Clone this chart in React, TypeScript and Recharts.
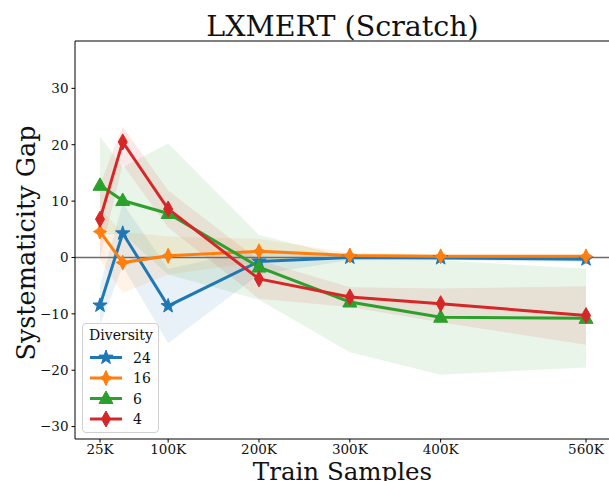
import React from "react"
import {
  Area,
  ComposedChart,
  Line,
  ReferenceLine,
  XAxis,
  YAxis,
} from "recharts"

const W = 609
const H = 481
const FONT = "'DejaVu Serif', serif"

// x positions (train samples) and per-diversity systematicity gap
const samples = [25000, 50000, 100000, 200000, 300000, 400000, 560000]
const xTicks = [25000, 100000, 200000, 300000, 400000, 560000]
const yTicks = [-30, -20, -10, 0, 10, 20, 30]

const gap24 = [-8.5, 4.3, -8.6, -0.7, 0.0, -0.1, -0.3]
const low24 = [-12, -1.5, -15.2, -3, -0.5, -0.5, -0.8]
const high24 = [-5, 9.6, -2, 1.5, 0.5, 0.3, 0.2]

const gap16 = [4.6, -0.9, 0.3, 1.1, 0.35, 0.2, 0.2]
const low16 = [-0.5, -6.3, -3, -0.8, 0, 0, 0]
const high16 = [8.5, 4.5, 3.7, 3.3, 0.8, 0.4, 0.4]

const gap6 = [12.8, 10.1, 7.8, -1.7, -7.9, -10.6, -10.8]
const low6 = [4, 4.2, -3, -7.5, -16.8, -20.8, -19.5]
const high6 = [21.5, 16, 20.2, 4, 0, -0.5, -2]

const gap4 = [6.8, 20.5, 8.6, -3.8, -7.0, -8.2, -10.3]
const low4 = [0, 16.5, 5.3, -7.3, -8.8, -11.5, -15.5]
const high4 = [13, 23.2, 11.9, -0.5, -5.3, -5.5, -5.1]

const COLORS = { d24: "#1f77b4", d16: "#ff7f0e", d6: "#2ca02c", d4: "#d62728" }

const rows = samples.map((x, i) => ({
  x,
  d24: gap24[i],
  b24: [low24[i], high24[i]],
  d16: gap16[i],
  b16: [low16[i], high16[i]],
  d6: gap6[i],
  b6: [low6[i], high6[i]],
  d4: gap4[i],
  b4: [low4[i], high4[i]],
}))

type Kind = "star" | "star4" | "tri" | "thin"

function markerPath(kind: Kind, cx: number, cy: number) {
  if (kind === "star") {
    const pts: string[] = []
    for (let k = 0; k < 10; k++) {
      const r = k % 2 === 0 ? 7.5 : 3
      const a = -Math.PI / 2 + (k * Math.PI) / 5
      pts.push(`${cx + r * Math.cos(a)},${cy + r * Math.sin(a)}`)
    }
    return "M" + pts.join("L") + "Z"
  }
  if (kind === "star4") {
    return `M${cx},${cy - 7.5}L${cx + 2.4},${cy - 2.4}L${cx + 6.5},${cy}L${cx + 2.4},${cy + 2.4}L${cx},${cy + 7.5}L${cx - 2.4},${cy + 2.4}L${cx - 6.5},${cy}L${cx - 2.4},${cy - 2.4}Z`
  }
  if (kind === "tri") {
    return `M${cx},${cy - 7.5}L${cx + 7},${cy + 5}L${cx - 7},${cy + 5}Z`
  }
  return `M${cx},${cy - 8}L${cx + 4.5},${cy}L${cx},${cy + 8}L${cx - 4.5},${cy}Z`
}

function dotFor(kind: Kind, color: string) {
  return (p: any) => (
    <path
      key={`${kind}-${p.index}`}
      d={markerPath(kind, p.cx, p.cy)}
      fill={color}
      stroke={color}
      strokeWidth={1}
    />
  )
}

const SERIES: { key: "d24" | "d16" | "d6" | "d4"; band: string; label: string; kind: Kind }[] = [
  { key: "d24", band: "b24", label: "24", kind: "star" },
  { key: "d16", band: "b16", label: "16", kind: "star4" },
  { key: "d6", band: "b6", label: "6", kind: "tri" },
  { key: "d4", band: "b4", label: "4", kind: "thin" },
]

const fmtK = (v: number) => `${Math.round(v / 1000)}K`
const fmtY = (v: number) => (v < 0 ? `\u2212${Math.abs(v)}` : `${v}`)

function LegendBox() {
  return (
    <div
      style={{
        position: "absolute",
        left: 82,
        top: 323,
        width: 77,
        height: 110,
        border: "1px solid #d0d0d0",
        borderRadius: 4,
        background: "rgba(255,255,255,0.8)",
        boxSizing: "border-box",
      }}
    >
      <svg width={77} height={110} style={{ fontFamily: FONT }}>
        <text x={38} y={16} textAnchor="middle" fontSize={14} fill="#111">
          Diversity
        </text>
        {SERIES.map((s, i) => {
          const cy = 33.5 + i * 20.5
          const c = COLORS[s.key]
          return (
            <g key={s.key}>
              <line x1={7} x2={39} y1={cy} y2={cy} stroke={c} strokeWidth={3} />
              <path d={markerPath(s.kind, 23, cy)} fill={c} stroke={c} strokeWidth={1} />
              <text x={50} y={cy + 5} fontSize={14} fill="#111">
                {s.label}
              </text>
            </g>
          )
        })}
      </svg>
    </div>
  )
}

export default function App() {
  return (
    <div style={{ position: "fixed", left: 0, top: 0, width: W, height: H, background: "#fff", overflow: "hidden" }}>
      <ComposedChart
        width={W}
        height={H}
        data={rows}
        margin={{ top: 41, right: 0, left: 0, bottom: 0 }}
      >
        <XAxis
          dataKey="x"
          type="number"
          domain={[-2530, 585300]}
          ticks={xTicks}
          tickFormatter={fmtK}
          allowDataOverflow
          height={42}
          tickSize={3.5}
          tickMargin={2}
          stroke="#000"
          tick={{ fill: "#111", fontSize: 13.5, fontFamily: FONT }}
        />
        <YAxis
          type="number"
          domain={[-32.2, 38.4]}
          ticks={yTicks}
          tickFormatter={fmtY}
          allowDataOverflow
          width={75}
          tickSize={3.5}
          tickMargin={3}
          stroke="#000"
          tick={{ fill: "#111", fontSize: 13.5, fontFamily: FONT }}
        />
        <ReferenceLine y={38.4} stroke="#000" strokeWidth={1} ifOverflow="visible" />
        {SERIES.map((s) => (
          <Area
            key={s.band}
            type="linear"
            dataKey={s.band}
            stroke="none"
            fill={COLORS[s.key]}
            fillOpacity={0.1}
            dot={false}
            activeDot={false}
            isAnimationActive={false}
          />
        ))}
        <ReferenceLine y={0} stroke="#6b6b6b" strokeWidth={1.6} />
        {SERIES.map((s) => (
          <Line
            key={s.key}
            type="linear"
            dataKey={s.key}
            stroke={COLORS[s.key]}
            strokeWidth={3}
            dot={dotFor(s.kind, COLORS[s.key])}
            activeDot={false}
            isAnimationActive={false}
          />
        ))}
      </ComposedChart>
      <svg
        width={W}
        height={H}
        style={{ position: "absolute", left: 0, top: 0, pointerEvents: "none", fontFamily: FONT }}
      >
        <text x={342.5} y={35.5} textAnchor="middle" fontSize={28.5} fill="#111">
          LXMERT (Scratch)
        </text>
        <text x={342.5} y={479.5} textAnchor="middle" fontSize={24.5} fill="#111">
          Train Samples
        </text>
        <text
          transform="translate(35,243) rotate(-90)"
          textAnchor="middle"
          fontSize={25.5}
          fill="#111"
        >
          Systematicity Gap
        </text>
      </svg>
      <LegendBox />
    </div>
  )
}
